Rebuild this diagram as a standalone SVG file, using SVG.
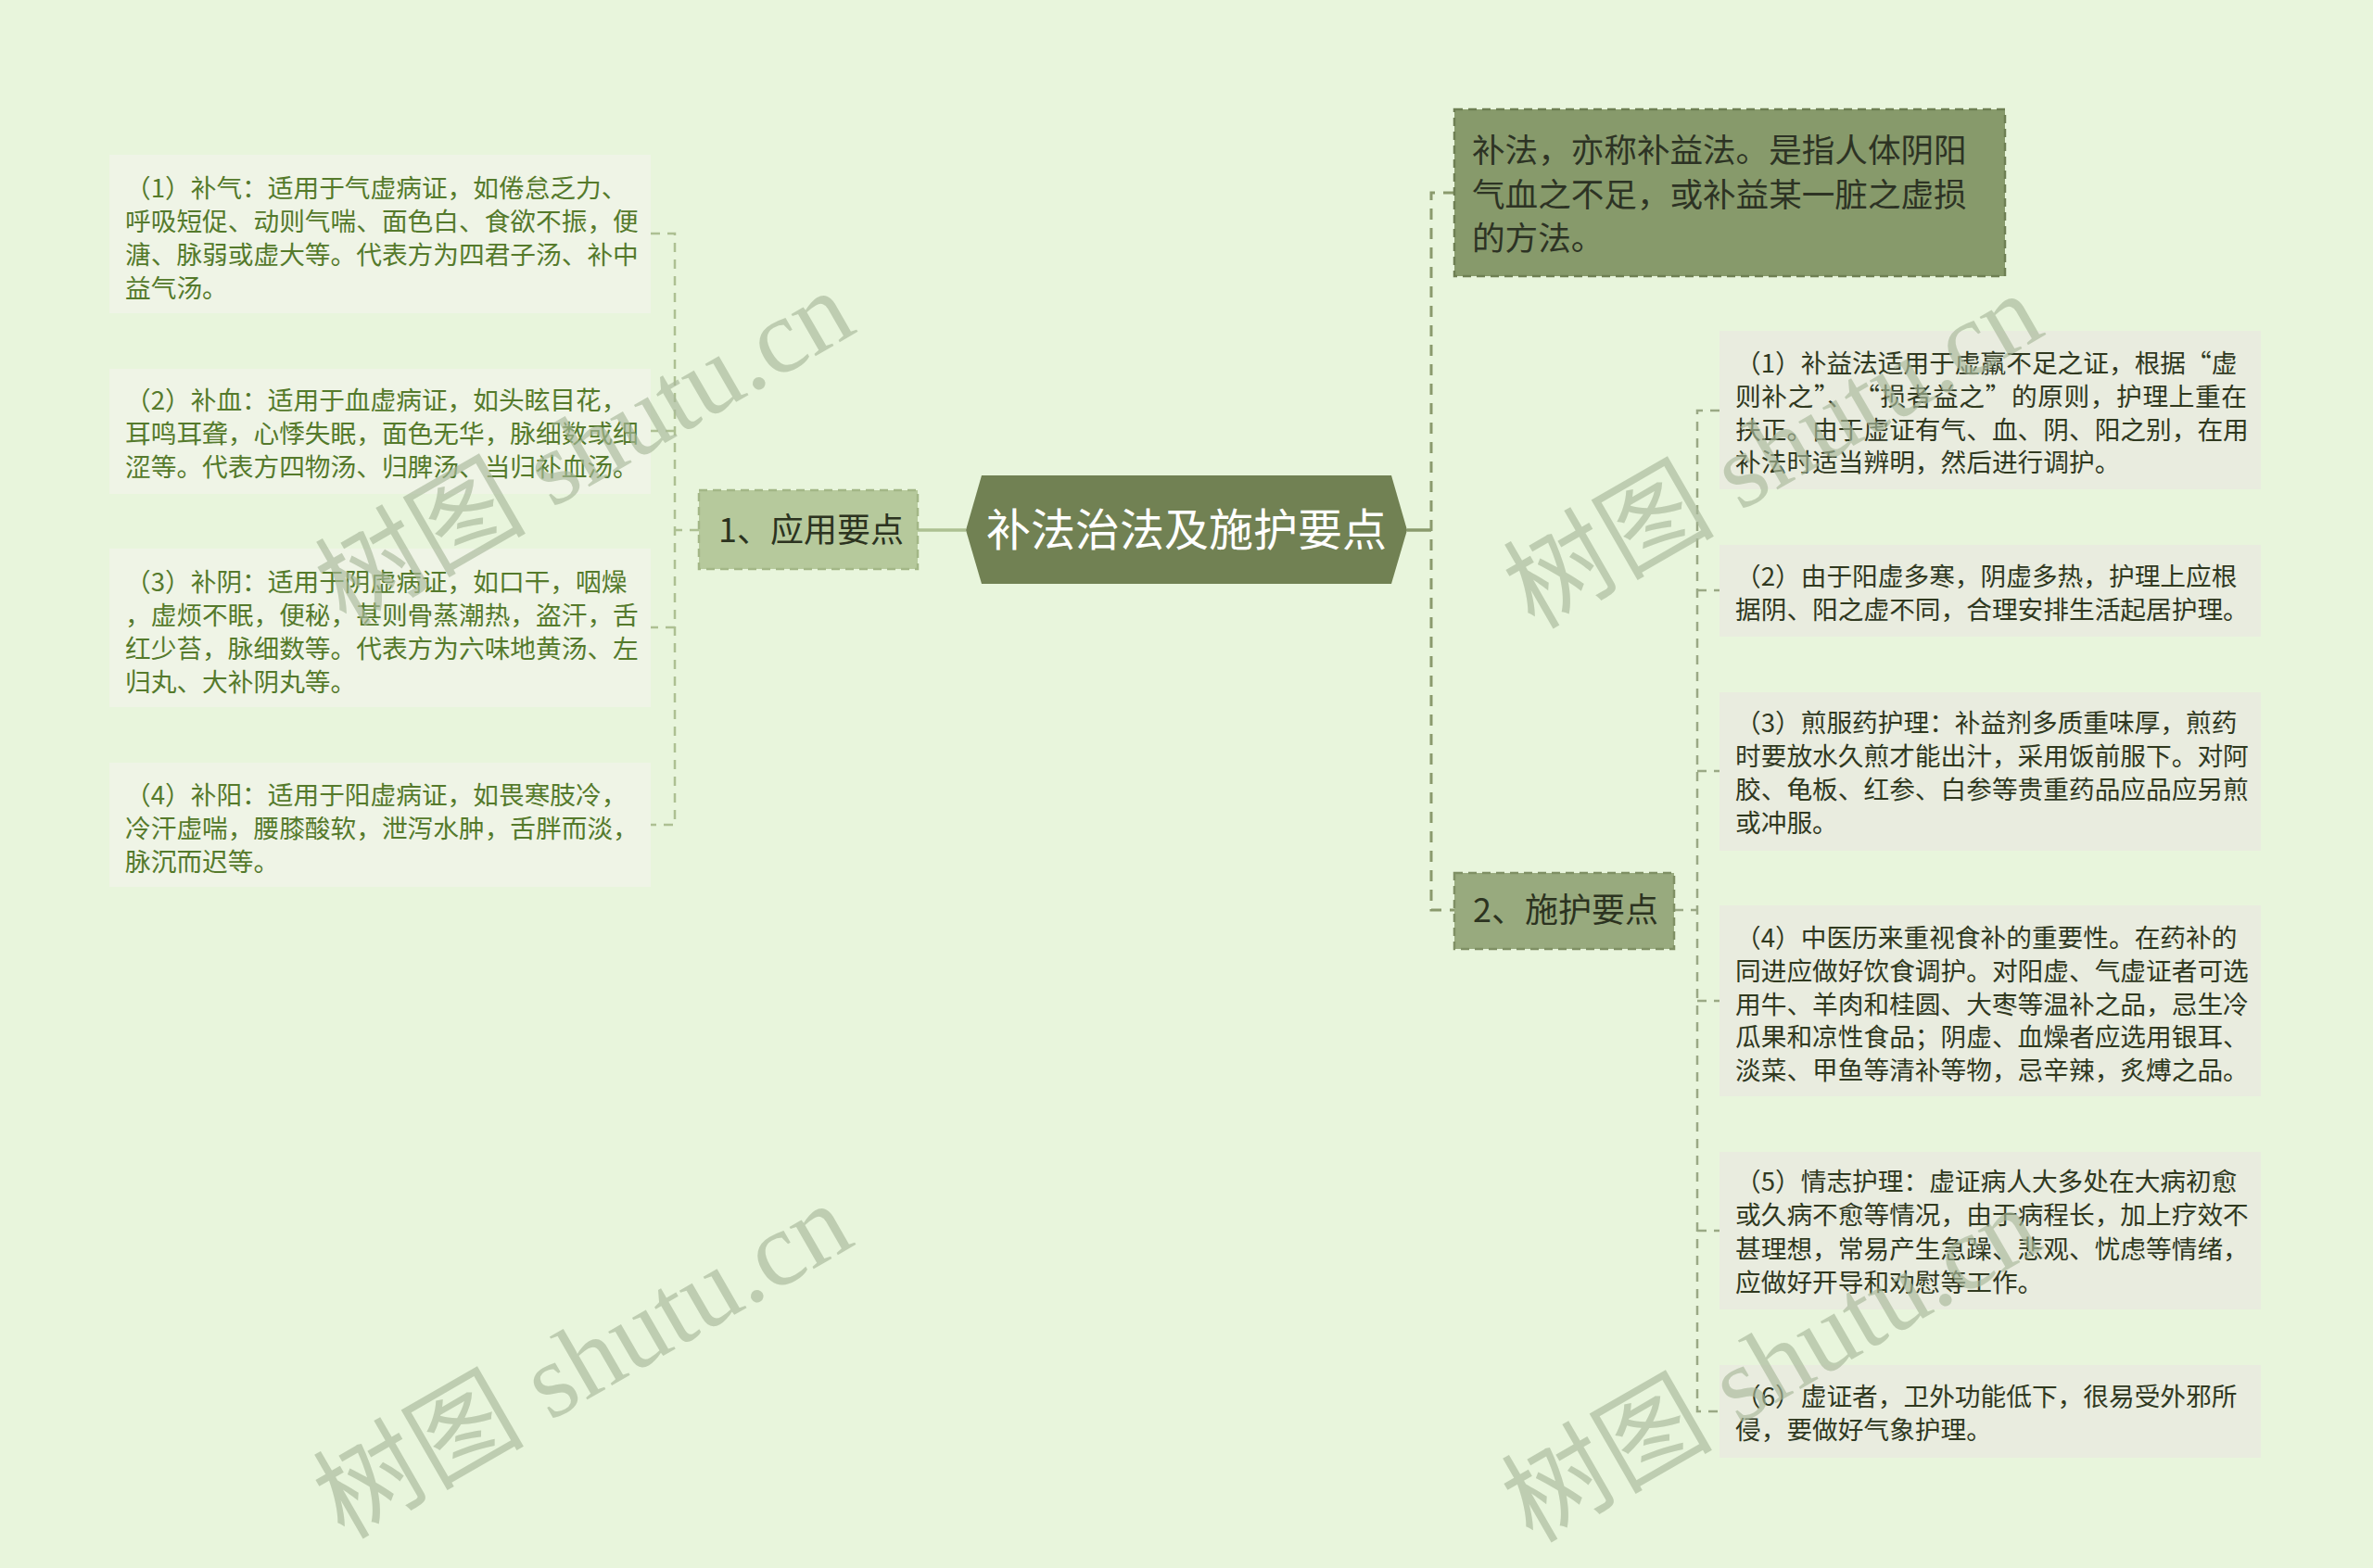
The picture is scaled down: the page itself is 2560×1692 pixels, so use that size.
<svg xmlns="http://www.w3.org/2000/svg" width="2560" height="1692" viewBox="0 0 2560 1692" xml:lang="zh-CN">
<defs>
<style>
.bg{fill:#e8f5dc}
.leafL{fill:#eff4e6}
.leafR{fill:#e9ecdf}
.tL{font-family:"Noto Sans CJK SC","Noto Sans",sans-serif;font-size:27.7px;fill:#557a2c}
.tR{font-family:"Noto Sans CJK SC","Noto Sans",sans-serif;font-size:27.7px;fill:#30391f}
.topbox{fill:#879a6b;stroke:#6e7f53;stroke-width:2.5;stroke-dasharray:9 6}
.tTop{font-family:"Noto Sans CJK SC","Noto Sans",sans-serif;font-size:35.6px;fill:#2d3324}
.b1{fill:#b6c99c;stroke:#a3b787;stroke-width:2.5;stroke-dasharray:9 6}
.b2{fill:#98aa7e;stroke:#7f9064;stroke-width:2.5;stroke-dasharray:9 6}
.tB{font-family:"Noto Sans CJK SC","Noto Sans",sans-serif;font-size:36px;fill:#2c3320}
.root{fill:#718153}
.tRoot{font-family:"Noto Sans CJK SC","Noto Sans",sans-serif;font-size:48px;fill:#ffffff}
.cL{fill:none;stroke:#adc092;stroke-width:2.5;stroke-dasharray:10 8}
.cLs{fill:none;stroke:#adc092;stroke-width:3.5}
.cR{fill:none;stroke:#8a9a6d;stroke-width:3;stroke-dasharray:12 9}
.cRs{fill:none;stroke:#8a9a6d;stroke-width:3.5}
.cR2{fill:none;stroke:#9aa985;stroke-width:2.5;stroke-dasharray:10 8}
.wm{font-family:"Liberation Serif","Noto Sans CJK SC",serif;font-size:114px;fill:#a9b99b;opacity:0.65}
</style>
</defs>
<rect class="bg" x="0" y="0" width="2560" height="1692"/>

<g id="connectors">
<path class="cLs" d="M1042,572 H990"/>
<path class="cL" d="M754,572 H728"/>
<path class="cL" d="M702,252 H728 V890 H702"/>
<path class="cL" d="M728,465 H702"/>
<path class="cL" d="M728,677 H702"/>
<path class="cRs" d="M1518,572 H1544"/>
<path class="cR" d="M1569,208 H1544 V982 H1569"/>
<path class="cR2" d="M1806,982 H1831"/>
<path class="cR2" d="M1855,443 H1831 V1523 H1855"/>
<path class="cR2" d="M1831,637 H1855"/>
<path class="cR2" d="M1831,832 H1855"/>
<path class="cR2" d="M1831,1080 H1855"/>
<path class="cR2" d="M1831,1328 H1855"/>
</g>

<g id="root">
<polygon class="root" points="1042,572 1059,513 1501,513 1518,572 1501,630 1059,630"/>
<text class="tRoot" x="1280" y="589" text-anchor="middle">补法治法及施护要点</text>
</g>

<g id="branch1">
<rect class="b1" x="754" y="529" width="236" height="85"/>
<text class="tB" x="775" y="585">1、应用要点</text>
</g>

<g id="branch2">
<rect class="b2" x="1569" y="942" width="237" height="82"/>
<text class="tB" x="1589" y="995">2、施护要点</text>
</g>

<g id="topnode">
<rect class="topbox" x="1569" y="118" width="594" height="180"/>
<text class="tTop" x="1588" y="175">补法，亦称补益法。是指人体阴阳</text>
<text class="tTop" x="1588" y="223">气血之不足，或补益某一脏之虚损</text>
<text class="tTop" x="1588" y="270">的方法。</text>
</g>

<g id="leafL1">
<rect class="leafL" x="118" y="167" width="584" height="171"/>
<text class="tL" x="135" y="213">（1）补气：适用于气虚病证，如倦怠乏力、</text>
<text class="tL" x="135" y="249">呼吸短促、动则气喘、面色白、食欲不振，便</text>
<text class="tL" x="135" y="285">溏、脉弱或虚大等。代表方为四君子汤、补中</text>
<text class="tL" x="135" y="321">益气汤。</text>
</g>

<g id="leafL2">
<rect class="leafL" x="118" y="398" width="584" height="135"/>
<text class="tL" x="135" y="442">（2）补血：适用于血虚病证，如头眩目花，</text>
<text class="tL" x="135" y="478">耳鸣耳聋，心悸失眠，面色无华，脉细数或细</text>
<text class="tL" x="135" y="514">涩等。代表方四物汤、归脾汤、当归补血汤。</text>
</g>

<g id="leafL3">
<rect class="leafL" x="118" y="592" width="584" height="171"/>
<text class="tL" x="135" y="638">（3）补阴：适用于阴虚病证，如口干，咽燥</text>
<text class="tL" x="135" y="674">，虚烦不眠，便秘，甚则骨蒸潮热，盗汗，舌</text>
<text class="tL" x="135" y="710">红少苔，脉细数等。代表方为六味地黄汤、左</text>
<text class="tL" x="135" y="746">归丸、大补阴丸等。</text>
</g>

<g id="leafL4">
<rect class="leafL" x="118" y="823" width="584" height="134"/>
<text class="tL" x="135" y="868">（4）补阳：适用于阳虚病证，如畏寒肢冷，</text>
<text class="tL" x="135" y="904">冷汗虚喘，腰膝酸软，泄泻水肿，舌胖而淡，</text>
<text class="tL" x="135" y="940">脉沉而迟等。</text>
</g>

<g id="leafR1">
<rect class="leafR" x="1855" y="357" width="584" height="171"/>
<text class="tR" x="1872" y="402">（1）补益法适用于虚羸不足之证，根据“虚</text>
<text class="tR" x="1872" y="438" textLength="552" lengthAdjust="spacing">则补之”、　“损者益之”的原则，护理上重在</text>
<text class="tR" x="1872" y="474">扶正。由于虚证有气、血、阴、阳之别，在用</text>
<text class="tR" x="1872" y="509">补法时适当辨明，然后进行调护。</text>
</g>

<g id="leafR2">
<rect class="leafR" x="1855" y="588" width="584" height="99"/>
<text class="tR" x="1872" y="632">（2）由于阳虚多寒，阴虚多热，护理上应根</text>
<text class="tR" x="1872" y="668">据阴、阳之虚不同，合理安排生活起居护理。</text>
</g>

<g id="leafR3">
<rect class="leafR" x="1855" y="747" width="584" height="171"/>
<text class="tR" x="1872" y="790">（3）煎服药护理：补益剂多质重味厚，煎药</text>
<text class="tR" x="1872" y="826">时要放水久煎才能出汁，采用饭前服下。对阿</text>
<text class="tR" x="1872" y="862">胶、龟板、红参、白参等贵重药品应品应另煎</text>
<text class="tR" x="1872" y="898">或冲服。</text>
</g>

<g id="leafR4">
<rect class="leafR" x="1855" y="977" width="584" height="206"/>
<text class="tR" x="1872" y="1022">（4）中医历来重视食补的重要性。在药补的</text>
<text class="tR" x="1872" y="1058">同进应做好饮食调护。对阳虚、气虚证者可选</text>
<text class="tR" x="1872" y="1094">用牛、羊肉和桂圆、大枣等温补之品，忌生冷</text>
<text class="tR" x="1872" y="1129">瓜果和凉性食品；阴虚、血燥者应选用银耳、</text>
<text class="tR" x="1872" y="1165">淡菜、甲鱼等清补等物，忌辛辣，炙煿之品。</text>
</g>

<g id="leafR5">
<rect class="leafR" x="1855" y="1243" width="584" height="170"/>
<text class="tR" x="1872" y="1285">（5）情志护理：虚证病人大多处在大病初愈</text>
<text class="tR" x="1872" y="1321">或久病不愈等情况，由于病程长，加上疗效不</text>
<text class="tR" x="1872" y="1358">甚理想，常易产生急躁、悲观、忧虑等情绪，</text>
<text class="tR" x="1872" y="1394">应做好开导和劝慰等工作。</text>
</g>

<g id="leafR6">
<rect class="leafR" x="1855" y="1473" width="584" height="100"/>
<text class="tR" x="1872" y="1517">（6）虚证者，卫外功能低下，很易受外邪所</text>
<text class="tR" x="1872" y="1553">侵，要做好气象护理。</text>
</g>

<g id="watermarks">
<text class="wm" x="650" y="517" text-anchor="middle" transform="rotate(-30 650 517)">树图 shutu.cn</text>
<text class="wm" x="1932" y="520" text-anchor="middle" transform="rotate(-30 1932 520)">树图 shutu.cn</text>
<text class="wm" x="648" y="1502" text-anchor="middle" transform="rotate(-30 648 1502)">树图 shutu.cn</text>
<text class="wm" x="1930" y="1506" text-anchor="middle" transform="rotate(-30 1930 1506)">树图 shutu.cn</text>
</g>
</svg>
